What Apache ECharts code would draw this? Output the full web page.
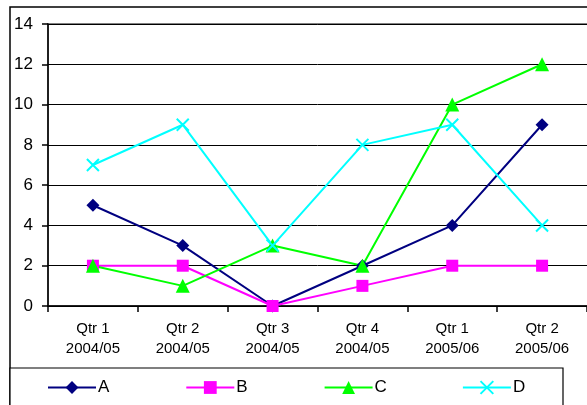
<!DOCTYPE html>
<html>
<head>
<meta charset="utf-8">
<script src="https://cdn.jsdelivr.net/npm/echarts@6/dist/echarts.min.js"></script>
<style>
  html, body { margin: 0; padding: 0; background: #fff; }
  #chart { width: 587px; height: 405px; }
</style>
</head>
<body>
<div id="chart"></div>
<script>
// Quarterly values per series
const categories = ['Qtr 1\n2004/05', 'Qtr 2\n2004/05', 'Qtr 3\n2004/05', 'Qtr 4\n2004/05', 'Qtr 1\n2005/06', 'Qtr 2\n2005/06'];
const seriesA = [5, 3, 0, 2, 4, 9];
const seriesB = [2, 2, 0, 1, 2, 2];
const seriesC = [2, 1, 3, 2, 10, 12];
const seriesD = [7, 9, 3, 8, 9, 4];
const yTicks = { min: 0, max: 14, interval: 2 };
const seriesNames = ['A', 'B', 'C', 'D'];

const FONT = '"Liberation Sans", Arial, sans-serif';
const crossPath = 'path://M0,0L10,10M10,0L0,10';

function lineSeries(name, data, color, symbol, size, extra) {
  return Object.assign({
    name: name,
    type: 'line',
    data: data,
    symbol: symbol,
    symbolSize: size,
    showAllSymbol: true,
    lineStyle: { color: color, width: 2 },
    itemStyle: { color: color },
    emphasis: { disabled: true },
    animation: false
  }, extra || {});
}

// one legend entry per column of the boxed key
const legends = seriesNames.map(function (name, i) {
  return {
    left: 47 + i * 138.3,
    top: 379,
    padding: 0,
    itemWidth: 48,
    itemHeight: 16,
    itemGap: 0,
    selectedMode: false,
    textStyle: { fontSize: 17, color: '#000', fontFamily: FONT, padding: [0, 0, 0, -3] },
    data: [name]
  };
});

const chart = echarts.init(document.getElementById('chart'), null, { renderer: 'canvas' });
chart.setOption({
  backgroundColor: '#ffffff',
  animation: false,
  textStyle: { fontFamily: FONT },
  grid: { left: 48, top: 24, width: 548, height: 282, containLabel: false },
  xAxis: {
    type: 'category',
    data: categories,
    boundaryGap: true,
    axisLine: { lineStyle: { color: '#000', width: 1.5 } },
    axisTick: { show: true, length: 6, lineStyle: { color: '#000', width: 1.5 } },
    axisLabel: { color: '#000', fontSize: 15, lineHeight: 20, margin: 13, fontFamily: FONT, interval: 0 },
    splitLine: { show: false }
  },
  yAxis: {
    type: 'value',
    min: yTicks.min,
    max: yTicks.max,
    interval: yTicks.interval,
    axisLine: { show: true, lineStyle: { color: '#000', width: 1.5 } },
    axisTick: { show: true, length: 6, lineStyle: { color: '#000', width: 1.5 } },
    axisLabel: { color: '#000', fontSize: 17, margin: 15, fontFamily: FONT },
    splitLine: { show: true, lineStyle: { color: '#000', width: 1 } }
  },
  legend: legends,
  graphic: [
    { type: 'rect', z: -1, silent: true, shape: { x: 10, y: 7, width: 620, height: 500 }, style: { fill: '#fff', stroke: '#000', lineWidth: 1.5 } },
    { type: 'rect', z: 0, silent: true, shape: { x: 48, y: 24, width: 548, height: 282 }, style: { fill: null, stroke: '#808080', lineWidth: 2 } },
    { type: 'rect', z: 0, silent: true, shape: { x: 10, y: 368, width: 553, height: 60 }, style: { fill: '#fff', stroke: '#000', lineWidth: 1.2 } }
  ],
  series: [
    lineSeries('A', seriesA, '#000080', 'diamond', 13),
    lineSeries('B', seriesB, '#ff00ff', 'rect', 12),
    lineSeries('C', seriesC, '#00ff00', 'triangle', 14),
    lineSeries('D', seriesD, '#00ffff', crossPath, 12, {
      itemStyle: { color: 'rgba(0,0,0,0)', borderColor: '#00ffff', borderWidth: 2 }
    })
  ]
});
</script>
</body>
</html>
